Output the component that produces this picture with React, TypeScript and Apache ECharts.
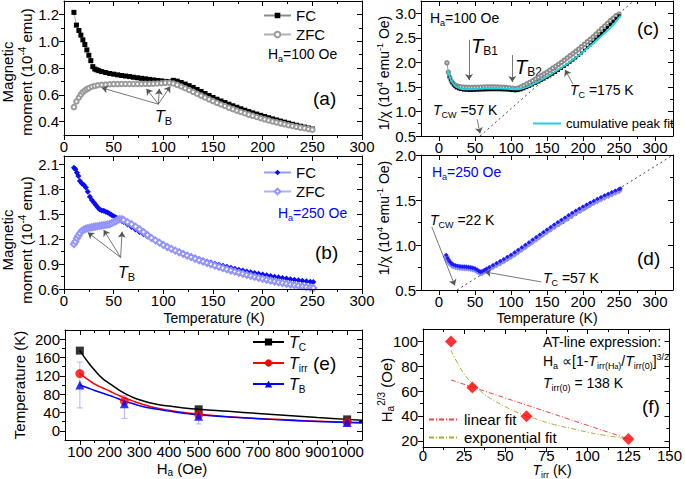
import React, { useEffect, useRef } from 'react';
import * as echarts from 'echarts';

const F = "'Liberation Sans', Arial, Helvetica, sans-serif";

// ---------- Panel (a): H = 100 Oe, magnetic moment (1e-4 emu) ----------
const aFC: number[][] = [[10,1.215],[12.5,1.12],[15,1.08],[17,1.045],[19,1.01],[21,0.975],[23,0.935],[25,0.895],[27,0.855],[29,0.81],[31,0.792],[33,0.786],[35,0.78],[38,0.773],[42,0.766],[46,0.759],[50,0.754],[54,0.749],[58,0.744],[62,0.74],[66,0.736],[70,0.731],[74,0.727],[78,0.723],[82,0.719],[86,0.715],[90,0.711],[94,0.707],[98,0.704],[102,0.7],[106,0.698],[110,0.708],[114,0.702],[118,0.692],[122,0.68],[126,0.668],[130,0.655],[134,0.64],[138,0.625],[142,0.61],[146,0.595],[150,0.58],[154,0.567],[158,0.554],[162,0.542],[166,0.53],[170,0.518],[174,0.507],[178,0.496],[182,0.485],[186,0.475],[190,0.465],[194,0.456],[198,0.447],[202,0.438],[206,0.429],[210,0.42],[214,0.412],[218,0.404],[222,0.396],[226,0.388],[230,0.38],[234,0.373],[238,0.366],[242,0.359],[246,0.352],[250,0.345]];
const aZFC: number[][] = [[10,0.508],[12.5,0.55],[15,0.58],[17,0.603],[19,0.62],[21,0.632],[23,0.642],[25,0.65],[28,0.66],[31,0.666],[34,0.671],[38,0.675],[42,0.677],[46,0.679],[50,0.68],[54,0.68],[58,0.681],[62,0.681],[66,0.681],[70,0.681],[74,0.681],[78,0.681],[82,0.682],[86,0.682],[90,0.683],[94,0.684],[98,0.686],[102,0.689],[106,0.69],[110,0.684],[114,0.674],[118,0.662],[122,0.649],[126,0.636],[130,0.622],[134,0.608],[138,0.594],[142,0.58],[146,0.566],[150,0.553],[154,0.54],[158,0.528],[162,0.516],[166,0.504],[170,0.493],[174,0.482],[178,0.472],[182,0.462],[186,0.452],[190,0.443],[194,0.434],[198,0.425],[202,0.417],[206,0.409],[210,0.401],[214,0.394],[218,0.387],[222,0.38],[226,0.373],[230,0.367],[234,0.361],[238,0.355],[242,0.35],[246,0.345],[250,0.34]];
const aArrows: number[][] = [[95,0.53,38,0.652],[95,0.53,83,0.645],[95,0.53,96,0.645],[95,0.53,107,0.663]];

// ---------- Panel (b): H = 250 Oe ----------
const bFC: number[][] = [[10,2.06],[11.5,2.04],[13,2.0],[14.5,1.96],[16,1.9],[18,1.87],[20,1.85],[22,1.82],[24,1.77],[26,1.71],[28,1.67],[30,1.64],[32,1.61],[34,1.58],[36,1.555],[38,1.545],[40,1.54],[42,1.53],[44,1.52],[46,1.505],[48,1.49],[50,1.475],[52,1.462],[54,1.45],[56,1.435],[58,1.42],[60,1.405],[64,1.375],[68,1.345],[72,1.315],[76,1.285],[80,1.26],[84,1.232],[88,1.205],[92,1.18],[96,1.155],[100,1.13],[104,1.108],[108,1.087],[112,1.067],[116,1.048],[120,1.03],[124,1.012],[128,0.995],[132,0.978],[136,0.962],[140,0.947],[144,0.932],[148,0.918],[152,0.905],[156,0.892],[160,0.879],[164,0.867],[168,0.855],[172,0.844],[176,0.833],[180,0.822],[184,0.812],[188,0.802],[192,0.792],[196,0.782],[200,0.773],[204,0.764],[208,0.756],[212,0.748],[216,0.74],[220,0.732],[224,0.725],[228,0.718],[232,0.711],[236,0.705],[240,0.699],[244,0.693],[248,0.687],[251,0.684]];
const bZFC: number[][] = [[10,1.14],[11.5,1.17],[13,1.21],[14.5,1.24],[16,1.27],[18,1.3],[20,1.315],[22,1.325],[24,1.332],[26,1.338],[28,1.343],[30,1.348],[32,1.352],[34,1.356],[36,1.36],[38,1.364],[40,1.368],[42,1.372],[44,1.376],[46,1.382],[48,1.392],[50,1.405],[52,1.415],[54,1.43],[56,1.44],[58,1.44],[60,1.43],[64,1.405],[68,1.38],[72,1.35],[76,1.318],[80,1.285],[84,1.25],[88,1.215],[92,1.185],[96,1.158],[100,1.13],[104,1.105],[108,1.083],[112,1.062],[116,1.042],[120,1.022],[124,1.002],[128,0.983],[132,0.964],[136,0.946],[140,0.929],[144,0.913],[148,0.897],[152,0.881],[156,0.866],[160,0.851],[164,0.836],[168,0.822],[172,0.808],[176,0.795],[180,0.782],[184,0.769],[188,0.757],[192,0.745],[196,0.733],[200,0.722],[204,0.711],[208,0.7],[212,0.69],[216,0.68],[220,0.671],[224,0.662],[228,0.654],[232,0.646],[236,0.638],[240,0.631],[244,0.624],[248,0.617],[251,0.612]];
const bArrows: number[][] = [[57,0.98,24,1.28],[57,0.98,40,1.31],[57,0.98,58.5,1.29]];

// ---------- Panel (c): 1/chi, H = 100 Oe ----------
const cFC: number[][] = [[14,1.72],[16,1.65],[18,1.585],[20,1.54],[22,1.505],[24,1.48],[27,1.46],[30,1.445],[34,1.435],[38,1.43],[42,1.428],[46,1.428],[50,1.43],[54,1.432],[58,1.435],[62,1.437],[66,1.44],[70,1.441],[74,1.442],[78,1.442],[82,1.442],[86,1.44],[90,1.438],[94,1.435],[98,1.43],[102,1.425],[106,1.42],[110,1.425],[114,1.44],[118,1.46],[122,1.485],[126,1.51],[130,1.54],[134,1.57],[138,1.6],[142,1.63],[146,1.66],[150,1.69],[154,1.725],[158,1.76],[162,1.795],[166,1.835],[170,1.875],[174,1.915],[178,1.955],[182,2.0],[186,2.045],[190,2.09],[194,2.14],[198,2.19],[202,2.245],[206,2.3],[210,2.355],[214,2.41],[218,2.47],[222,2.53],[226,2.59],[230,2.65],[234,2.71],[238,2.77],[242,2.83],[246,2.89],[250,2.95]];
const cZFC: number[][] = [[11,1.99],[13,1.8],[15,1.69],[17,1.62],[19,1.58],[21,1.55],[24,1.525],[27,1.51],[30,1.5],[34,1.494],[38,1.49],[42,1.488],[46,1.488],[50,1.49],[54,1.492],[58,1.495],[62,1.497],[66,1.5],[70,1.5],[74,1.5],[78,1.5],[82,1.498],[86,1.495],[90,1.49],[94,1.485],[98,1.478],[102,1.47],[106,1.465],[110,1.475],[114,1.5],[118,1.53],[122,1.56],[126,1.59],[130,1.625],[134,1.66],[138,1.695],[142,1.73],[146,1.765],[150,1.8],[154,1.84],[158,1.88],[162,1.92],[166,1.96],[170,2.0],[174,2.045],[178,2.09],[182,2.135],[186,2.18],[190,2.225],[194,2.27],[198,2.32],[202,2.37],[206,2.42],[210,2.47],[214,2.52],[218,2.575],[222,2.63],[226,2.685],[230,2.74],[234,2.795],[238,2.85],[242,2.9],[246,2.95],[250,2.98]];
const cFit: number[][] = [[12,1.84],[15,1.7],[18,1.6],[22,1.525],[27,1.48],[33,1.455],[40,1.45],[50,1.455],[60,1.465],[70,1.47],[80,1.47],[90,1.465],[100,1.455],[108,1.45],[116,1.47],[124,1.51],[132,1.565],[140,1.625],[148,1.69],[156,1.76],[164,1.835],[172,1.91],[180,1.99],[188,2.075],[196,2.165],[204,2.26],[212,2.36],[220,2.465],[228,2.57],[236,2.68],[244,2.8],[252,2.95]];
const cCW: number[][] = [[57,0.5],[270,3.25]];
const cArrows: number[][] = [[41.7,2.46,41.7,1.64],[101.8,2.15,101.8,1.6],[53,0.84,57,0.55],[186,1.56,175,1.85]];

// ---------- Panel (d): 1/chi, H = 250 Oe ----------
const dFC: number[][] = [[10,0.89],[12,0.852],[14,0.825],[16,0.805],[18,0.79],[20,0.78],[23,0.771],[26,0.766],[29,0.762],[32,0.759],[35,0.757],[38,0.756],[41,0.754],[44,0.75],[47,0.744],[50,0.736],[53,0.723],[56,0.706],[58,0.7],[60,0.706],[63,0.72],[66,0.734],[70,0.752],[75,0.774],[80,0.797],[85,0.82],[90,0.843],[95,0.866],[100,0.89],[105,0.917],[110,0.945],[115,0.972],[120,1.0],[125,1.029],[130,1.058],[135,1.087],[140,1.115],[145,1.143],[150,1.17],[155,1.198],[160,1.225],[165,1.252],[170,1.278],[175,1.304],[180,1.33],[185,1.355],[190,1.38],[195,1.403],[200,1.425],[205,1.448],[210,1.47],[215,1.49],[220,1.51],[225,1.53],[230,1.55],[235,1.568],[240,1.585],[245,1.603],[250,1.62],[252,1.627]];
const dZFC: number[][] = [[10,0.87],[12,0.835],[14,0.81],[16,0.792],[18,0.778],[20,0.768],[23,0.76],[26,0.755],[29,0.752],[32,0.749],[35,0.747],[38,0.746],[41,0.744],[44,0.74],[47,0.734],[50,0.727],[53,0.714],[56,0.697],[58,0.692],[60,0.697],[63,0.709],[66,0.722],[70,0.739],[75,0.76],[80,0.782],[85,0.803],[90,0.826],[95,0.85],[100,0.874],[105,0.9],[110,0.928],[115,0.955],[120,0.983],[125,1.012],[130,1.04],[135,1.068],[140,1.096],[145,1.124],[150,1.152],[155,1.18],[160,1.207],[165,1.234],[170,1.26],[175,1.286],[180,1.311],[185,1.336],[190,1.36],[195,1.384],[200,1.407],[205,1.43],[210,1.452],[215,1.473],[220,1.493],[225,1.513],[230,1.532],[235,1.551],[240,1.569],[245,1.587],[250,1.604]];
const dCW: number[][] = [[25,0.5],[325,2.0]];
const dArrows: number[][] = [[-10,1.2,22,0.55],[142,0.59,64,0.7]];

// ---------- Panel (e): characteristic temperatures vs field ----------
const eTc: number[][] = [[100,175],[500,47],[1000,25]];
const eTirr: number[][] = [[100,125],[250,65],[500,35],[1000,19]];
const eTB: number[][] = [[100,100],[250,59],[500,32],[1000,18]];
const eTBerr: number[][] = [[100,50,150],[250,27,77],[500,15,45]];
const eTcFit: number[][] = [[100,175],[125,152],[150,132],[175,115],[200,103],[225,92],[250,82],[275,74],[300,68],[350,59],[400,54],[450,50],[500,47],[600,42.5],[700,38],[800,33.5],[900,29],[1000,25],[1050,23]];
const eTirrFit: number[][] = [[100,125],[125,113],[150,102],[175,94],[200,87],[225,79],[250,72],[275,66],[300,60],[350,51],[400,45],[450,40],[500,36.5],[600,31],[700,27],[800,24],[900,21],[1000,19],[1050,18]];
const eTBFit: number[][] = [[100,100],[125,94],[150,88],[175,82.5],[200,77],[225,71],[250,65],[275,60],[300,55],[350,48],[400,43],[450,38.5],[500,35],[600,30],[700,26.5],[800,23],[900,20.5],[1000,18],[1050,17]];

// ---------- Panel (f): AT line ----------
const fPts: number[][] = [[17,100],[30,63],[63,39.7],[125,21.5]];
const fLinear: number[][] = [[17,69],[125,21.5]];
const fExpo: number[][] = [[17,93],[20,85],[25,74],[30,66],[35,60],[40,55],[50,47.5],[60,41.5],[70,37],[80,33],[90,30],[100,27],[110,24.5],[125,21.5]];

// ---------- Axis ticks ----------
const tT300 = [0, 50, 100, 150, 200, 250, 300];
const tT300m = [25, 75, 125, 175, 225, 275];
const tA_y = [0.4, 0.6, 0.8, 1.0, 1.2];
const tA_ym = [0.5, 0.7, 0.9, 1.1];
const tB_y = [0.6, 0.9, 1.2, 1.5, 1.8, 2.1];
const tB_ym = [0.75, 1.05, 1.35, 1.65, 1.95];
const tC_y = [0.5, 1.0, 1.5, 2.0, 2.5, 3.0];
const tC_ym = [0.75, 1.25, 1.75, 2.25, 2.75];
const tD_y = [0.5, 1.0, 1.5, 2.0];
const tD_ym = [0.75, 1.25, 1.75];
const tE_x = [100, 200, 300, 400, 500, 600, 700, 800, 900, 1000];
const tE_xm = [150, 250, 350, 450, 550, 650, 750, 850, 950];
const tE_y = [0, 40, 80, 120, 160, 200];
const tE_ym = [20, 60, 100, 140, 180];
const tF_x = [0, 25, 50, 75, 100, 125, 150];
const tF_xm = [12.5, 37.5, 62.5, 87.5, 112.5, 137.5];
const tF_y = [20, 40, 60, 80, 100];
const tF_ym = [30, 50, 70, 90];

const grids = [
  { left: 64, top: 1, width: 298, height: 134 },
  { left: 64, top: 156, width: 298, height: 133 },
  { left: 421, top: 1, width: 252, height: 135 },
  { left: 421, top: 155, width: 252, height: 135 },
  { left: 65, top: 330, width: 297, height: 110 },
  { left: 423, top: 329, width: 250, height: 118 },
];

const f1 = (v: number) => v.toFixed(1);
const f0 = (v: number) => String(Math.round(v));

type Spec = { min: number; max: number; major: number[]; minor: number[]; fmt: (v: number) => string; margin: number; lh?: number };

const specs: { x: Spec; y: Spec }[] = [
  { x: { min: 0, max: 300, major: tT300, minor: tT300m, fmt: f0, margin: 4 }, y: { min: 0.3, max: 1.3, major: tA_y, minor: tA_ym, fmt: f1, margin: 5 } },
  { x: { min: 0, max: 300, major: tT300, minor: tT300m, fmt: f0, margin: 4 }, y: { min: 0.6, max: 2.2, major: tB_y, minor: tB_ym, fmt: f1, margin: 5 } },
  { x: { min: -25, max: 325, major: tT300, minor: tT300m, fmt: f0, margin: 4 }, y: { min: 0.5, max: 3.25, major: tC_y, minor: tC_ym, fmt: f1, margin: 5 } },
  { x: { min: -25, max: 325, major: tT300, minor: tT300m, fmt: f0, margin: 4 }, y: { min: 0.5, max: 2.0, major: tD_y, minor: tD_ym, fmt: f1, margin: 5 } },
  { x: { min: 50, max: 1050, major: tE_x, minor: tE_xm, fmt: f0, margin: 4 }, y: { min: -20, max: 220, major: tE_y, minor: tE_ym, fmt: f0, margin: 5 } },
  { x: { min: 0, max: 150, major: tF_x, minor: tF_xm, fmt: f0, margin: 2, lh: 13 }, y: { min: 15, max: 110, major: tF_y, minor: tF_ym, fmt: f0, margin: 5 } },
];

const line = { color: '#000', width: 1 };

function axisTrio(gi: number, s: Spec, main: string, other: string) {
  const base = { type: 'value', gridIndex: gi, min: s.min, max: s.max, splitLine: { show: false }, z: 5 };
  return [
    { ...base, position: main, axisLine: { show: true, onZero: false, lineStyle: line },
      axisTick: { show: true, inside: false, length: 5, customValues: s.major, lineStyle: line },
      axisLabel: { show: true, customValues: s.major, formatter: s.fmt, margin: s.margin, fontSize: 15, fontFamily: F, color: '#000', ...(s.lh ? { lineHeight: s.lh } : {}) } },
    { ...base, position: main, axisLine: { show: false, onZero: false },
      axisTick: { show: true, inside: false, length: 3, customValues: s.minor, lineStyle: line },
      axisLabel: { show: false } },
    { ...base, position: other, axisLine: { show: true, onZero: false, lineStyle: line },
      axisTick: { show: true, inside: true, length: 5, customValues: s.major, lineStyle: line },
      axisLabel: { show: false } },
    { ...base, position: other, axisLine: { show: false, onZero: false },
      axisTick: { show: true, inside: true, length: 3, customValues: s.minor, lineStyle: line },
      axisLabel: { show: false } },
  ];
}

const xAxes: any[] = [];
const yAxes: any[] = [];
specs.forEach((s, i) => {
  xAxes.push(...axisTrio(i, s.x, 'bottom', 'top'));
  yAxes.push(...axisTrio(i, s.y, 'left', 'right'));
});

const ax = (gi: number) => ({ xAxisIndex: gi * 4, yAxisIndex: gi * 4 });

const arrowLine = (arr: number[][]) => ({
  silent: true,
  symbol: ['none', 'arrow'],
  symbolSize: 6,
  label: { show: false },
  emphasis: { disabled: true },
  lineStyle: { color: '#555', width: 0.8, type: 'solid' },
  data: arr.map(([x1, y1, x2, y2]) => [{ coord: [x1, y1] }, { coord: [x2, y2] }]),
});

// rich text styles for graphic (zrender-level)
const RT = (size: number, color = '#000') => ({
  n: { font: `${size}px ${F}`, fill: color, lineHeight: size + 4 },
  i: { font: `italic ${size}px ${F}`, fill: color, lineHeight: size + 4 },
  I: { font: `italic ${size + 6}px ${F}`, fill: color, lineHeight: size + 8 },
  S: { font: `${size - 2}px ${F}`, fill: color, verticalAlign: 'bottom', lineHeight: size - 4 },
  s: { font: `${Math.round(size * 0.66)}px ${F}`, fill: color, verticalAlign: 'bottom', lineHeight: Math.round(size * 0.66) },
  q: { font: `${Math.round(size * 0.5)}px ${F}`, fill: color, verticalAlign: 'bottom', lineHeight: Math.round(size * 0.45) },
  p: { font: `${Math.round(size * 0.66)}px ${F}`, fill: color, verticalAlign: 'top', lineHeight: Math.round(size * 0.66) },
});

const txt = (x: number, y: number, text: string, size = 14, color = '#000', opts: any = {}) => ({
  type: 'text', x, y, rotation: opts.rot || 0, silent: true,
  style: { text, font: `${size}px ${F}`, fill: color, align: opts.align || 'left', verticalAlign: 'middle', rich: RT(size, color) },
});

const App: React.FC = () => {
  const ref = useRef<HTMLDivElement>(null);
  useEffect(() => {
    if (!ref.current) return;
    const chart = echarts.init(ref.current, undefined, { renderer: 'svg' });
    const R = Math.PI / 2;
    const graphic = [
      // axis titles
      txt(17, 72, '{n|Magnetic}\n{n|moment (10}{p|-4}{n| emu)}', 15, '#000', { rot: R, align: 'center' }),
      txt(17, 240, '{n|Magnetic}\n{n|moment (10}{p|-4}{n| emu)}', 15, '#000', { rot: R, align: 'center' }),
      txt(384, 73, '{n|1/χ (10}{p|4}{n| emu}{p|-1}{n| Oe)}', 14, '#000', { rot: R, align: 'center' }),
      txt(384, 218, '{n|1/χ (10}{p|4}{n| emu}{p|-1}{n| Oe)}', 14, '#000', { rot: R, align: 'center' }),
      txt(19, 385, 'Temperature (K)', 15, '#000', { rot: R, align: 'center' }),
      txt(386, 390, '{n|H}{s|a}{p|2/3}{n| (Oe)}', 15, '#000', { rot: R, align: 'center' }),
      txt(214, 318, 'Temperature (K)', 14, '#000', { align: 'center' }),
      txt(547, 318, 'Temperature (K)', 14, '#000', { align: 'center' }),
      txt(182, 468, '{n|H}{s|a}{n| (Oe)}', 15, '#000', { align: 'center' }),
      txt(552, 470, '{i|T}{s|irr}{n| (K)}', 14, '#000', { align: 'center' }),
      // panel (a)
      txt(155, 116, '{i|T}{s|B}', 16),
      txt(268, 54, '{n|H}{s|a}{n|=100 Oe}', 14),
      txt(313, 98, '(a)', 19),
      // panel (b)
      txt(118, 272, '{i|T}{s|B}', 16),
      txt(278, 213, '{n|H}{s|a}{n|=250 Oe}', 14, '#0000ff'),
      txt(315, 252, '(b)', 19),
      // panel (c)
      txt(430, 18, '{n|H}{s|a}{n|=100 Oe}', 14),
      txt(637, 28, '(c)', 19),
      txt(471, 46, '{I|T}{S|B1}', 14),
      txt(515, 67, '{I|T}{S|B2}', 14),
      txt(433, 110, '{i|T}{s|CW}{n| =57 K}', 14),
      txt(570, 90, '{i|T}{s|C}{n| =175 K}', 14),
      // panel (d)
      txt(432, 172, '{n|H}{s|a}{n|=250 Oe}', 14, '#0000ff'),
      txt(637, 258, '(d)', 19),
      txt(430, 220, '{i|T}{s|CW}{n| =22 K}', 14),
      txt(543, 278, '{i|T}{s|C}{n| =57 K}', 14),
      // panel (e)
      txt(313, 363, '(e)', 19),
      // panel (f)
      txt(543, 342, 'AT-line expression:', 14),
      txt(543, 361, '{n|H}{s|a}{n| ∝[1-}{i|T}{s|irr(H}{q|a}{s|)}{n|/}{i|T}{s|irr(0)}{n|]}{p|3/2}', 14),
      txt(543, 383, '{i|T}{s|irr(0)}{n| = 138 K}', 14),
      txt(642, 406, '(f)', 19),
    ];

    const legendText = { fontSize: 15, fontFamily: F, color: '#000' };
    const richT = {
      i: { fontStyle: 'italic', fontSize: 16, fontFamily: F, color: '#000', lineHeight: 20 },
      s: { fontSize: 10, fontFamily: F, color: '#000', verticalAlign: 'bottom', lineHeight: 10 },
    };
    const nameMap: Record<string, string> = {
      FC_a: 'FC', ZFC_a: 'ZFC', FC_b: 'FC', ZFC_b: 'ZFC',
      Tc: '{i|T}{s|C}', Tirr: '{i|T}{s|irr}', TB: '{i|T}{s|B}',
    };

    const option: any = {
      animation: false,
      backgroundColor: '#fff',
      grid: grids.map((g) => ({ ...g, containLabel: false })),
      xAxis: xAxes,
      yAxis: yAxes,
      graphic,
      legend: [
        { left: 263, top: 8, orient: 'vertical', padding: 0, itemWidth: 27, itemHeight: 7, itemGap: 4, selectedMode: false,
          data: ['FC_a', 'ZFC_a'], formatter: (n: string) => nameMap[n], textStyle: legendText },
        { left: 263, top: 165, orient: 'vertical', padding: 0, itemWidth: 27, itemHeight: 7, itemGap: 4, selectedMode: false,
          data: ['FC_b', 'ZFC_b'], formatter: (n: string) => nameMap[n], textStyle: legendText },
        { left: 532, top: 117, orient: 'vertical', padding: 0, itemWidth: 28, itemHeight: 3, selectedMode: false,
          itemStyle: { opacity: 0 }, data: ['cumulative peak fit'], textStyle: { fontSize: 13, fontFamily: F, color: '#000' } },
        { left: 252, top: 334, orient: 'vertical', padding: 0, itemWidth: 31, itemHeight: 9, itemGap: 3, selectedMode: false,
          data: ['Tc', 'Tirr', 'TB'], formatter: (n: string) => nameMap[n], textStyle: { ...legendText, rich: richT } },
        { left: 428, top: 412, orient: 'vertical', padding: 0, itemWidth: 30, itemHeight: 3, itemGap: 3, selectedMode: false,
          itemStyle: { opacity: 0 }, data: ['linear fit', 'exponential fit'], textStyle: { ...legendText, lineHeight: 15 } },
      ],
      series: [
        // (a)
        { name: 'FC_a', type: 'line', ...ax(0), data: aFC, symbol: 'rect', symbolSize: 5,
          itemStyle: { color: '#000' }, lineStyle: { color: '#8a8a8a', width: 0.7 }, markLine: arrowLine(aArrows) },
        { name: 'ZFC_a', type: 'line', ...ax(0), data: aZFC, symbol: 'emptyCircle', symbolSize: 4.5,
          itemStyle: { color: '#9a9a9a', borderWidth: 0.6 }, lineStyle: { color: '#b0b0b0', width: 0.6 } },
        // (b)
        { name: 'FC_b', type: 'line', ...ax(1), data: bFC, symbol: 'diamond', symbolSize: 6,
          itemStyle: { color: '#0a0aff' }, lineStyle: { color: '#9a9aff', width: 0.7 }, markLine: arrowLine(bArrows) },
        { name: 'ZFC_b', type: 'line', ...ax(1), data: bZFC, symbol: 'emptyDiamond', symbolSize: 6,
          itemStyle: { color: '#9494ff', borderWidth: 0.6 }, lineStyle: { color: '#b0b0ff', width: 0.6 } },
        // (c)
        { name: 'cZFC', type: 'line', ...ax(2), data: cZFC, symbol: 'emptyCircle', symbolSize: 3.5,
          itemStyle: { color: '#8c8c8c', borderWidth: 0.8 }, lineStyle: { color: '#999', width: 1 } },
        { name: 'cFC', type: 'line', ...ax(2), data: cFC, symbol: 'rect', symbolSize: 3,
          itemStyle: { color: '#000' }, lineStyle: { color: '#000', width: 1.5 } },
        { name: 'cumulative peak fit', type: 'line', ...ax(2), data: cFit, smooth: true, symbol: 'none', z: 4,
          itemStyle: { color: '#22d3dc' }, lineStyle: { color: '#22d3dc', width: 2 } },
        { name: 'cCW', type: 'line', ...ax(2), data: cCW, symbol: 'none',
          lineStyle: { color: '#333', width: 0.9, type: [2, 3] }, markLine: arrowLine(cArrows) },
        // (d)
        { name: 'dZFC', type: 'line', ...ax(3), data: dZFC, symbol: 'emptyDiamond', symbolSize: 4.5,
          itemStyle: { color: '#8c8cff', borderWidth: 0.8 }, lineStyle: { color: '#a0a0ff', width: 1 } },
        { name: 'dFC', type: 'line', ...ax(3), data: dFC, symbol: 'diamond', symbolSize: 4.5,
          itemStyle: { color: '#1a1aff' }, lineStyle: { color: '#3030ff', width: 1 } },
        { name: 'dCW', type: 'line', ...ax(3), data: dCW, symbol: 'none',
          lineStyle: { color: '#333', width: 0.9, type: [2, 3] }, markLine: arrowLine(dArrows) },
        // (e)
        { name: 'TBerr', type: 'custom', ...ax(4), data: eTBerr, encode: { x: 0, y: [1, 2] }, silent: true, z: 1,
          renderItem: (_p: any, api: any) => {
            const x = api.value(0);
            const a = api.coord([x, api.value(1)]);
            const b = api.coord([x, api.value(2)]);
            const st = { stroke: '#b4b4ff', lineWidth: 1 };
            return { type: 'group', children: [
              { type: 'line', shape: { x1: a[0], y1: a[1], x2: b[0], y2: b[1] }, style: st },
              { type: 'line', shape: { x1: a[0] - 3, y1: a[1], x2: a[0] + 3, y2: a[1] }, style: st },
              { type: 'line', shape: { x1: b[0] - 3, y1: b[1], x2: b[0] + 3, y2: b[1] }, style: st },
            ] };
          } },
        { name: 'Tc', type: 'line', ...ax(4), data: eTcFit, smooth: true, symbol: 'rect', showSymbol: false,
          itemStyle: { color: '#000' }, lineStyle: { color: '#000', width: 1.5 } },
        { name: 'Tirr', type: 'line', ...ax(4), data: eTirrFit, smooth: true, symbol: 'circle', showSymbol: false,
          itemStyle: { color: '#ff0000' }, lineStyle: { color: '#ff0000', width: 1.5 } },
        { name: 'TB', type: 'line', ...ax(4), data: eTBFit, smooth: true, symbol: 'triangle', showSymbol: false,
          itemStyle: { color: '#0000ff' }, lineStyle: { color: '#0000ff', width: 1.5 } },
        { name: 'TcPts', type: 'scatter', ...ax(4), data: eTc, symbol: 'rect', symbolSize: 8, itemStyle: { color: '#000' }, z: 4 },
        { name: 'TirrPts', type: 'scatter', ...ax(4), data: eTirr, symbol: 'circle', symbolSize: 9, itemStyle: { color: '#ff0000' }, z: 4 },
        { name: 'TBPts', type: 'scatter', ...ax(4), data: eTB, symbol: 'triangle', symbolSize: 9, itemStyle: { color: '#0000ff' }, z: 4 },
        // (f)
        { name: 'linear fit', type: 'line', ...ax(5), data: fLinear, symbol: 'none',
          itemStyle: { color: '#ff4040' }, lineStyle: { color: '#ff4040', width: 1, type: [5, 2, 1, 2] } },
        { name: 'exponential fit', type: 'line', ...ax(5), data: fExpo, smooth: true, symbol: 'none',
          itemStyle: { color: '#a9a93a' }, lineStyle: { color: '#a9a93a', width: 1, type: [5, 2, 1, 2] } },
        { name: 'fPts', type: 'scatter', ...ax(5), data: fPts, symbol: 'diamond', symbolSize: 12,
          itemStyle: { color: '#ff0000' }, z: 4 },
      ],
    };
    chart.setOption(option);
    return () => chart.dispose();
  }, []);
  return (
    <div ref={ref} style={{ position: 'fixed', left: 0, top: 0, width: 685, height: 479, background: '#fff' }} />
  );
};

export default App;
